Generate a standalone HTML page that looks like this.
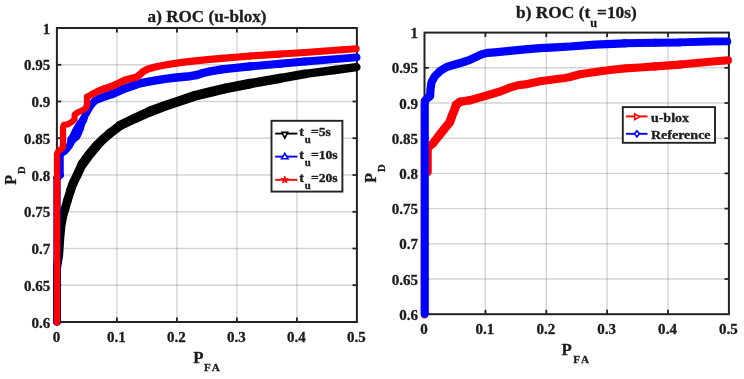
<!DOCTYPE html>
<html><head><meta charset="utf-8"><title>ROC</title>
<style>
html,body{margin:0;padding:0;background:#fff;}
svg{display:block;filter:blur(0.45px)}
text{font-family:"Liberation Serif","DejaVu Serif",serif;font-weight:bold;fill:#1c1c1c;stroke:#1c1c1c;stroke-width:0.3px;}
.gr{stroke:#000;stroke-opacity:0.17;stroke-width:1.4}
.ax{fill:none;stroke:#222;stroke-width:2}
.tk{stroke:#222;stroke-width:1.8}
.tl{font-size:14.3px}
.ti{font-size:16.4px}
.c{fill:none;stroke-linejoin:round;stroke-linecap:round}
.lg{fill:#fff;stroke:#222;stroke-width:1.9}
.lt{font-size:11.8px}
.lr{font-size:13.6px}
.sub{font-size:10px}
.al{font-size:16px}
.as{font-size:10.6px}
</style></head><body>
<svg width="744" height="379" viewBox="0 0 744 379">
<rect width="744" height="379" fill="#fff"/>
<!-- left plot -->
<line x1="116.9" y1="28.0" x2="116.9" y2="322.0" class="gr"/>
<line x1="176.9" y1="28.0" x2="176.9" y2="322.0" class="gr"/>
<line x1="236.9" y1="28.0" x2="236.9" y2="322.0" class="gr"/>
<line x1="296.9" y1="28.0" x2="296.9" y2="322.0" class="gr"/>
<line x1="56.9" y1="64.8" x2="356.9" y2="64.8" class="gr"/>
<line x1="56.9" y1="101.5" x2="356.9" y2="101.5" class="gr"/>
<line x1="56.9" y1="138.2" x2="356.9" y2="138.2" class="gr"/>
<line x1="56.9" y1="175.0" x2="356.9" y2="175.0" class="gr"/>
<line x1="56.9" y1="211.8" x2="356.9" y2="211.8" class="gr"/>
<line x1="56.9" y1="248.5" x2="356.9" y2="248.5" class="gr"/>
<line x1="56.9" y1="285.2" x2="356.9" y2="285.2" class="gr"/>
<rect x="56.9" y="28.0" width="300.0" height="294.0" class="ax"/>
<line x1="116.9" y1="322.0" x2="116.9" y2="317.6" class="tk"/>
<line x1="116.9" y1="28.0" x2="116.9" y2="32.4" class="tk"/>
<line x1="176.9" y1="322.0" x2="176.9" y2="317.6" class="tk"/>
<line x1="176.9" y1="28.0" x2="176.9" y2="32.4" class="tk"/>
<line x1="236.9" y1="322.0" x2="236.9" y2="317.6" class="tk"/>
<line x1="236.9" y1="28.0" x2="236.9" y2="32.4" class="tk"/>
<line x1="296.9" y1="322.0" x2="296.9" y2="317.6" class="tk"/>
<line x1="296.9" y1="28.0" x2="296.9" y2="32.4" class="tk"/>
<line x1="56.9" y1="64.8" x2="61.3" y2="64.8" class="tk"/>
<line x1="356.9" y1="64.8" x2="352.5" y2="64.8" class="tk"/>
<line x1="56.9" y1="101.5" x2="61.3" y2="101.5" class="tk"/>
<line x1="356.9" y1="101.5" x2="352.5" y2="101.5" class="tk"/>
<line x1="56.9" y1="138.2" x2="61.3" y2="138.2" class="tk"/>
<line x1="356.9" y1="138.2" x2="352.5" y2="138.2" class="tk"/>
<line x1="56.9" y1="175.0" x2="61.3" y2="175.0" class="tk"/>
<line x1="356.9" y1="175.0" x2="352.5" y2="175.0" class="tk"/>
<line x1="56.9" y1="211.8" x2="61.3" y2="211.8" class="tk"/>
<line x1="356.9" y1="211.8" x2="352.5" y2="211.8" class="tk"/>
<line x1="56.9" y1="248.5" x2="61.3" y2="248.5" class="tk"/>
<line x1="356.9" y1="248.5" x2="352.5" y2="248.5" class="tk"/>
<line x1="56.9" y1="285.2" x2="61.3" y2="285.2" class="tk"/>
<line x1="356.9" y1="285.2" x2="352.5" y2="285.2" class="tk"/>
<g class="c" stroke="#000">
<polyline stroke-width="8.0" points="57.0,321.5 57.0,268.0"/>
<polyline stroke-width="8.2" points="57.0,268.0 57.8,262.0"/>
<polyline stroke-width="8.4" points="57.8,262.0 58.9,255.0"/>
<polyline stroke-width="8.5" points="58.9,255.0 59.5,246.0 60.2,236.0 61.2,226.0 63.0,216.0 65.0,209.0"/>
<polyline stroke-width="8.6" points="65.0,209.0 67.3,201.0"/>
<polyline stroke-width="8.7" points="67.3,201.0 70.5,190.6"/>
<polyline stroke-width="8.9" points="70.5,190.6 73.2,183.0"/>
<polyline stroke-width="9.0" points="73.2,183.0 77.2,174.9"/>
<polyline stroke-width="9.1" points="77.2,174.9 82.0,164.6"/>
<polyline stroke-width="9.6" points="82.0,164.6 88.9,155.1 96.8,145.6"/>
<polyline stroke-width="9.2" points="96.8,145.6 102.8,139.5 109.8,133.4"/>
<polyline stroke-width="9.3" points="109.8,133.4 120.0,125.6"/>
<polyline stroke-width="9.5" points="120.0,125.6 135.0,118.3"/>
<polyline stroke-width="9.7" points="135.0,118.3 150.0,111.5"/>
<polyline stroke-width="9.9" points="150.0,111.5 165.0,105.9 180.0,100.9 195.0,95.7 210.0,92.1 225.0,88.5"/>
<polyline stroke-width="9.8" points="225.0,88.5 250.0,83.6"/>
<polyline stroke-width="9.4" points="250.0,83.6 280.0,78.3"/>
<polyline stroke-width="8.9" points="280.0,78.3 305.0,73.9"/>
<polyline stroke-width="8.5" points="305.0,73.9 335.0,70.0"/>
<polyline stroke-width="8.4" points="335.0,70.0 356.4,67.2"/>
</g>
<g class="c" stroke="#0000ff">
<polyline stroke-width="7.4" points="57.0,321.8 57.0,178.0"/>
<polyline stroke-width="7.3" points="57.0,178.0 60.2,175.0"/>
<polyline stroke-width="7.1" points="60.2,175.0 60.2,154.4"/>
<polyline stroke-width="6.9" points="60.2,154.4 64.4,151.5"/>
<polyline stroke-width="6.8" points="64.4,151.5 67.0,149.0 69.2,146.0"/>
<polyline stroke-width="6.9" points="69.2,146.0 70.4,143.7"/>
<polyline stroke-width="7.3" points="70.4,143.7 71.8,139.8"/>
<polyline stroke-width="9.3" points="71.8,139.8 75.2,135.8"/>
<polyline stroke-width="10.8" points="75.2,135.8 77.0,131.9"/>
<polyline stroke-width="10.3" points="77.0,131.9 79.0,127.9"/>
<polyline stroke-width="9.3" points="79.0,127.9 80.6,124.0"/>
<polyline stroke-width="8.1" points="80.6,124.0 83.2,119.8"/>
<polyline stroke-width="7.3" points="83.2,119.8 84.4,116.9"/>
<polyline stroke-width="6.9" points="84.4,116.9 86.8,112.7"/>
<polyline stroke-width="6.8" points="86.8,112.7 89.4,108.4"/>
<polyline stroke-width="6.9" points="89.4,108.4 91.6,104.5"/>
<polyline stroke-width="7.2" points="91.6,104.5 94.8,101.0"/>
<polyline stroke-width="7.6" points="94.8,101.0 99.2,98.7"/>
<polyline stroke-width="8.0" points="99.2,98.7 105.8,96.1"/>
<polyline stroke-width="8.3" points="105.8,96.1 112.0,94.1"/>
<polyline stroke-width="8.4" points="112.0,94.1 125.0,88.4 140.0,83.3 150.0,81.3 165.0,78.9 176.4,77.5 190.0,76.2 197.0,75.0 203.0,73.0 210.0,71.4 222.0,69.4"/>
<polyline stroke-width="8.3" points="222.0,69.4 250.0,66.4"/>
<polyline stroke-width="8.1" points="250.0,66.4 280.0,63.8"/>
<polyline stroke-width="7.9" points="280.0,63.8 305.0,61.5"/>
<polyline stroke-width="7.8" points="305.0,61.5 335.0,59.2 356.6,57.4"/>
</g>
<g class="c" stroke="#ff0000">
<polyline stroke-width="6.3" points="57.0,322.2 57.0,154.0 58.5,151.0 62.0,148.5 63.1,146.0"/>
<polyline stroke-width="6.2" points="63.1,146.0 63.0,127.6 63.8,124.9 67.8,124.4 72.1,121.7 74.5,118.9 74.7,114.7 77.3,112.6 82.6,110.2 85.8,108.2 87.0,104.8"/>
<polyline stroke-width="6.3" points="87.0,104.8 87.2,96.8"/>
<polyline stroke-width="6.6" points="87.2,96.8 93.1,93.7"/>
<polyline stroke-width="6.9" points="93.1,93.7 98.4,91.0"/>
<polyline stroke-width="7.1" points="98.4,91.0 103.7,89.0"/>
<polyline stroke-width="7.2" points="103.7,89.0 112.0,86.2"/>
<polyline stroke-width="7.3" points="112.0,86.2 125.0,80.1 136.9,76.9 140.0,74.5 143.2,71.4 148.0,69.0 155.1,67.0 165.0,65.0 180.0,62.6 195.0,60.9 210.0,59.4 222.0,58.3"/>
<polyline stroke-width="7.2" points="222.0,58.3 250.0,56.0"/>
<polyline stroke-width="7.1" points="250.0,56.0 280.0,54.1"/>
<polyline stroke-width="7.0" points="280.0,54.1 305.0,52.5 335.0,50.2 356.2,48.7"/>
</g>
<text transform="translate(56.4,342.1) scale(1.05,1)" class="tl" text-anchor="middle">0</text>
<text transform="translate(116.4,342.1) scale(1.05,1)" class="tl" text-anchor="middle">0.1</text>
<text transform="translate(176.4,342.1) scale(1.05,1)" class="tl" text-anchor="middle">0.2</text>
<text transform="translate(236.4,342.1) scale(1.05,1)" class="tl" text-anchor="middle">0.3</text>
<text transform="translate(296.4,342.1) scale(1.05,1)" class="tl" text-anchor="middle">0.4</text>
<text transform="translate(356.4,342.1) scale(1.05,1)" class="tl" text-anchor="middle">0.5</text>
<text transform="translate(50.3,33.6) scale(1.05,1)" class="tl" text-anchor="end">1</text>
<text transform="translate(50.3,70.3) scale(1.05,1)" class="tl" text-anchor="end">0.95</text>
<text transform="translate(50.3,107.1) scale(1.05,1)" class="tl" text-anchor="end">0.9</text>
<text transform="translate(50.3,143.8) scale(1.05,1)" class="tl" text-anchor="end">0.85</text>
<text transform="translate(50.3,180.6) scale(1.05,1)" class="tl" text-anchor="end">0.8</text>
<text transform="translate(50.3,217.3) scale(1.05,1)" class="tl" text-anchor="end">0.75</text>
<text transform="translate(50.3,254.1) scale(1.05,1)" class="tl" text-anchor="end">0.7</text>
<text transform="translate(50.3,290.9) scale(1.05,1)" class="tl" text-anchor="end">0.65</text>
<text transform="translate(50.3,327.6) scale(1.05,1)" class="tl" text-anchor="end">0.6</text>
<text transform="translate(207.1,22.2) scale(1.045,1)" class="ti" text-anchor="middle">a) ROC (u-blox)</text>
<text transform="translate(193.2,362.8) scale(1.05,1)" class="al" text-anchor="start">P</text><text transform="translate(204.0,370.9) scale(1.05,1)" class="as" text-anchor="start" style="letter-spacing:1.7px">FA</text>
<text transform="translate(15.8,184.8) rotate(-90)" class="al">P</text>
<text transform="translate(24.7,173.9) rotate(-90)" class="as">D</text>
<!-- legend left -->
<rect x="271.5" y="120.8" width="70.9" height="70.8" class="lg"/>
<g stroke-width="1.9" fill="#fff">
<line x1="275.2" y1="133.6" x2="297.4" y2="133.6" stroke="#000"/>
<path d="M281.9,132.4 L287.7,132.4 L284.8,138.2 Z" stroke="#000" stroke-width="1.6"/>
<line x1="275.2" y1="156.6" x2="297.4" y2="156.6" stroke="#0000ff"/>
<path d="M281.6,158.7 L288,158.7 L284.8,153.4 Z" stroke="#0000ff" stroke-width="1.6"/>
<line x1="275.2" y1="179.8" x2="297.4" y2="179.8" stroke="#ff0000"/>
<path d="M284.8,176.2 l0.9,2.5 2.6,0 -2.1,1.6 0.8,2.6 -2.2,-1.6 -2.2,1.6 0.8,-2.6 -2.1,-1.6 2.6,0 Z" fill="#ff0000" stroke="#ff0000" stroke-width="1"/>
</g>
<text transform="translate(299.3,135.9) scale(1.2,1)" class="lt" text-anchor="start">t</text><text transform="translate(304.7,142.7) scale(1.08,1)" class="sub" text-anchor="start">u</text><text transform="translate(310.9,135.9) scale(1.16,1)" class="lt" text-anchor="start">=5s</text>
<text transform="translate(299.3,159.0) scale(1.2,1)" class="lt" text-anchor="start">t</text><text transform="translate(304.7,165.8) scale(1.08,1)" class="sub" text-anchor="start">u</text><text transform="translate(310.9,159.0) scale(1.16,1)" class="lt" text-anchor="start">=10s</text>
<text transform="translate(299.3,182.0) scale(1.2,1)" class="lt" text-anchor="start">t</text><text transform="translate(304.7,188.8) scale(1.08,1)" class="sub" text-anchor="start">u</text><text transform="translate(310.9,182.0) scale(1.16,1)" class="lt" text-anchor="start">=20s</text>

<!-- right plot -->
<line x1="485.4" y1="32.6" x2="485.4" y2="314.2" class="gr"/>
<line x1="546.3" y1="32.6" x2="546.3" y2="314.2" class="gr"/>
<line x1="607.1" y1="32.6" x2="607.1" y2="314.2" class="gr"/>
<line x1="668.0" y1="32.6" x2="668.0" y2="314.2" class="gr"/>
<line x1="424.5" y1="67.8" x2="728.9" y2="67.8" class="gr"/>
<line x1="424.5" y1="103.0" x2="728.9" y2="103.0" class="gr"/>
<line x1="424.5" y1="138.2" x2="728.9" y2="138.2" class="gr"/>
<line x1="424.5" y1="173.4" x2="728.9" y2="173.4" class="gr"/>
<line x1="424.5" y1="208.6" x2="728.9" y2="208.6" class="gr"/>
<line x1="424.5" y1="243.8" x2="728.9" y2="243.8" class="gr"/>
<line x1="424.5" y1="279.0" x2="728.9" y2="279.0" class="gr"/>
<rect x="424.5" y="32.6" width="304.4" height="281.6" class="ax"/>
<line x1="485.4" y1="314.2" x2="485.4" y2="309.8" class="tk"/>
<line x1="485.4" y1="32.6" x2="485.4" y2="37.0" class="tk"/>
<line x1="546.3" y1="314.2" x2="546.3" y2="309.8" class="tk"/>
<line x1="546.3" y1="32.6" x2="546.3" y2="37.0" class="tk"/>
<line x1="607.1" y1="314.2" x2="607.1" y2="309.8" class="tk"/>
<line x1="607.1" y1="32.6" x2="607.1" y2="37.0" class="tk"/>
<line x1="668.0" y1="314.2" x2="668.0" y2="309.8" class="tk"/>
<line x1="668.0" y1="32.6" x2="668.0" y2="37.0" class="tk"/>
<line x1="424.5" y1="67.8" x2="428.9" y2="67.8" class="tk"/>
<line x1="728.9" y1="67.8" x2="724.5" y2="67.8" class="tk"/>
<line x1="424.5" y1="103.0" x2="428.9" y2="103.0" class="tk"/>
<line x1="728.9" y1="103.0" x2="724.5" y2="103.0" class="tk"/>
<line x1="424.5" y1="138.2" x2="428.9" y2="138.2" class="tk"/>
<line x1="728.9" y1="138.2" x2="724.5" y2="138.2" class="tk"/>
<line x1="424.5" y1="173.4" x2="428.9" y2="173.4" class="tk"/>
<line x1="728.9" y1="173.4" x2="724.5" y2="173.4" class="tk"/>
<line x1="424.5" y1="208.6" x2="428.9" y2="208.6" class="tk"/>
<line x1="728.9" y1="208.6" x2="724.5" y2="208.6" class="tk"/>
<line x1="424.5" y1="243.8" x2="428.9" y2="243.8" class="tk"/>
<line x1="728.9" y1="243.8" x2="724.5" y2="243.8" class="tk"/>
<line x1="424.5" y1="279.0" x2="428.9" y2="279.0" class="tk"/>
<line x1="728.9" y1="279.0" x2="724.5" y2="279.0" class="tk"/>
<g class="c" stroke="#ff0000">
<polyline stroke-width="6.5" points="424.6,315.2 424.6,175.0 428.5,172.5 428.5,148.5"/>
<polyline stroke-width="7.2" points="428.5,148.5 432.6,143.8"/>
<polyline stroke-width="8.4" points="432.6,143.8 439.2,135.4"/>
<polyline stroke-width="8.8" points="439.2,135.4 444.8,128.3 449.8,122.3 452.2,115.3 454.4,110.1 456.2,104.8"/>
<polyline stroke-width="8.7" points="456.2,104.8 460.0,101.8"/>
<polyline stroke-width="8.4" points="460.0,101.8 470.0,100.2"/>
<polyline stroke-width="8.2" points="470.0,100.2 485.0,96.0 500.1,91.5 510.0,87.6 517.5,85.3 525.0,84.4 540.0,81.3 555.0,79.3 565.0,78.0 570.0,77.0 580.0,74.3 595.0,72.0 610.0,70.0 625.0,68.4 640.0,67.5 655.0,66.4"/>
<polyline stroke-width="8.1" points="655.0,66.4 680.0,64.6"/>
<polyline stroke-width="8.0" points="680.0,64.6 710.0,61.8 728.0,60.3"/>
</g>
<g class="c" stroke="#0000ff">
<polyline stroke-width="8.2" points="424.7,313.8 424.7,101.0 427.0,98.5 430.2,96.0 430.4,90.0 431.5,82.2 434.8,76.3 440.1,71.0 446.7,67.0 455.0,64.5 462.0,62.5 470.0,59.8 481.9,54.2 488.0,52.8 494.6,52.3 510.0,50.8 525.0,49.4 540.0,48.1 555.0,47.4 570.0,46.5 595.0,44.6 625.0,43.3"/>
<polyline stroke-width="8.1" points="625.0,43.3 655.0,42.8"/>
<polyline stroke-width="8.0" points="655.0,42.8 680.0,42.4"/>
<polyline stroke-width="7.9" points="680.0,42.4 710.0,41.5 727.3,41.4"/>
</g>
<text transform="translate(424.0,334.3) scale(1.05,1)" class="tl" text-anchor="middle">0</text>
<text transform="translate(484.9,334.3) scale(1.05,1)" class="tl" text-anchor="middle">0.1</text>
<text transform="translate(545.8,334.3) scale(1.05,1)" class="tl" text-anchor="middle">0.2</text>
<text transform="translate(606.6,334.3) scale(1.05,1)" class="tl" text-anchor="middle">0.3</text>
<text transform="translate(667.5,334.3) scale(1.05,1)" class="tl" text-anchor="middle">0.4</text>
<text transform="translate(728.4,334.3) scale(1.05,1)" class="tl" text-anchor="middle">0.5</text>
<text transform="translate(418.0,38.2) scale(1.05,1)" class="tl" text-anchor="end">1</text>
<text transform="translate(418.0,73.4) scale(1.05,1)" class="tl" text-anchor="end">0.95</text>
<text transform="translate(418.0,108.6) scale(1.05,1)" class="tl" text-anchor="end">0.9</text>
<text transform="translate(418.0,143.8) scale(1.05,1)" class="tl" text-anchor="end">0.85</text>
<text transform="translate(418.0,179.0) scale(1.05,1)" class="tl" text-anchor="end">0.8</text>
<text transform="translate(418.0,214.2) scale(1.05,1)" class="tl" text-anchor="end">0.75</text>
<text transform="translate(418.0,249.4) scale(1.05,1)" class="tl" text-anchor="end">0.7</text>
<text transform="translate(418.0,284.6) scale(1.05,1)" class="tl" text-anchor="end">0.65</text>
<text transform="translate(418.0,319.8) scale(1.05,1)" class="tl" text-anchor="end">0.6</text>
<text transform="translate(516.0,18.3) scale(1.06,1)" class="ti" text-anchor="start">b) ROC (t<tspan dy="8.2" style="font-size:11.5px">u</tspan><tspan dy="-8.2">=10s)</tspan></text>
<text transform="translate(561.5,354.8) scale(1.05,1)" class="al" text-anchor="start">P</text><text transform="translate(573.3,363.3) scale(1.05,1)" class="as" text-anchor="start" style="letter-spacing:1.7px">FA</text>
<text transform="translate(376.4,182.8) rotate(-90)" class="al">P</text>
<text transform="translate(385.2,171.9) rotate(-90)" class="as">D</text>
<!-- legend right -->
<rect x="622.8" y="107.1" width="92.2" height="35.7" class="lg"/>
<g stroke-width="1.9" fill="#fff">
<line x1="626" y1="116.4" x2="647.5" y2="116.4" stroke="#ff0000"/>
<path d="M634.7,113.9 L639.7,116.8 L634.7,119.7 Z" stroke="#ff0000" stroke-width="1.6"/>
<line x1="626" y1="133.8" x2="647.5" y2="133.8" stroke="#0000ff"/>
<path d="M636.9,130.7 L639.3,133.8 L636.9,136.9 L634.5,133.8 Z" stroke="#0000ff" stroke-width="1.6"/>
</g>
<text transform="translate(650.9,121.7) scale(1.19,1)" class="lt" text-anchor="start">u-blox</text>
<text transform="translate(650.9,139.1) scale(1.19,1)" class="lt" text-anchor="start">Reference</text>
</svg>
</body></html>
